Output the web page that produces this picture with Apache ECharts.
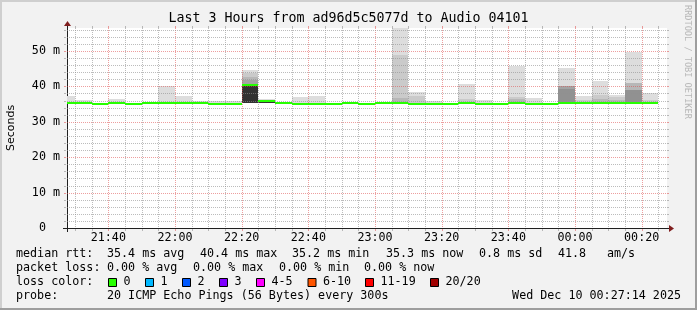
<!DOCTYPE html>
<html>
<head>
<meta charset="utf-8">
<script src="https://cdn.jsdelivr.net/npm/echarts@6/dist/echarts.min.js"></script>
<style>
html,body{margin:0;padding:0;background:#f2f2f2;}
#chart{width:697px;height:310px;}
</style>
</head>
<body>
<div id="chart"></div>
<script>
// ---------------- data ----------------
const chartTitle = 'Last 3 Hours from ad96d5c5077d to Audio 04101';
const yAxisTitle = 'Seconds';
const xTickLabels = ['21:40','22:00','22:20','22:40','23:00','23:20','23:40','00:00','00:20'];
const yTickValues = [0, 10, 20, 30, 40, 50];

// 5-minute sample bins (start time of each bin)
const stepStarts = ['21:25','21:30','21:35','21:40','21:45','21:50','21:55',
  '22:00','22:05','22:10','22:15','22:20','22:25','22:30','22:35','22:40','22:45','22:50','22:55',
  '23:00','23:05','23:10','23:15','23:20','23:25','23:30','23:35','23:40','23:45','23:50','23:55',
  '00:00','00:05','00:10','00:15','00:20'];

// median RTT per bin (ms)
const medianRtt = [35.4,35.4,35.1,35.4,35.1,35.4,35.4,35.4,35.4,35.1,
                   35.1,40.4,36.0,35.4,35.1,35.1,35.1,35.4,35.1,35.4,
                   35.4,35.1,35.1,35.1,35.4,35.1,35.1,35.4,35.1,35.1,
                   35.4,35.4,35.4,35.4,35.4,35.4];

// smoke: lowest ping, then top of each smoke band (band 1 = outermost / max ping)
const smokeFloor = 35.2;
const smokeTop1 = [37.4,36.2,null,36.4,null,null,40.0,37.3,36.0,36.0,
                   36.0,44.6,36.4,null,37.1,37.3,null,null,null,null,
                   56.6,38.4,36.0,null,40.8,36.2,null,45.8,36.8,null,
                   45.3,37.3,41.4,37.7,49.8,38.1];
const smokeTop2 = [null,null,null,null,null,null,null,null,null,null,
                   null,43.7,null,null,null,null,null,null,null,null,
                   48.9,37.3,null,null,36.5,null,null,37.1,null,null,
                   null,36.3,37.6,37.0,null,36.3];
const smokeTop3 = [null,null,null,null,null,null,null,null,null,null,
                   null,42.7,null,null,null,null,null,null,null,null,
                   36.7,null,null,null,null,null,null,36.4,null,null,
                   null,null,36.4,36.3,41.1,null];
const smokeTop4 = [null,null,null,null,null,null,null,null,null,null,
                   null,41.7,null,null,null,null,null,null,null,null,
                   null,null,null,null,null,null,null,null,null,null,
                   40.0,null,null,null,null,null];
const smokeTop5 = [null,null,null,null,null,null,null,null,null,null,
                   null,null,null,null,null,null,null,null,null,null,
                   null,null,null,null,null,null,null,null,null,null,
                   39.3,null,null,null,38.9,null];
const smokeTop10 = [null,null,null,null,null,null,null,null,null,null,
                    null,40.7,35.8,null,null,null,null,null,null,null,
                    null,null,null,null,null,null,null,null,null,null,
                    null,null,null,null,null,null];

const rttLabel = 'median rtt:';
const rttStats = ['35.4 ms avg','40.4 ms max','35.2 ms min','35.3 ms now','0.8 ms sd','41.8','am/s'];
const lossLabel = 'packet loss:';
const lossStats = ['0.00 % avg','0.00 % max','0.00 % min','0.00 % now'];
const lossColorLabel = 'loss color:';
const lossLabels = ['0','1','2','3','4-5','6-10','11-19','20/20'];
const lossColors = ['#26ff00','#00b8ff','#0059ff','#7e00ff','#ff00ff','#ff5500','#ff0000','#a10000'];
const probeLabel = 'probe:';
const probeText = '20 ICMP Echo Pings (56 Bytes) every 300s';
const dateText = 'Wed Dec 10 00:27:14 2025';
const watermark = 'RRDTOOL / TOBI OETIKER';

// ---------------- helpers ----------------
const toMin = s => { let [h, m] = s.split(':').map(Number); if (h < 12) h += 24; return (h - 21) * 60 + m; };
const fmtMin = v => { let t = Math.round(v); let h = (21 + Math.floor(t / 60)) % 24; let m = t % 60; return String(h).padStart(2,'0') + ':' + String(m).padStart(2,'0'); };
const STEP = 5;
const xMin = 27.6, xMax = 207.6, yMax = 56.5;
const bandColor = lvl => { const c = Math.floor(190 / 10 * (10 - lvl)) + 50; const h = c.toString(16).padStart(2, '0'); return '#' + h + h + h; };

const smokeBands = [[1, smokeTop1],[2, smokeTop2],[3, smokeTop3],[4, smokeTop4],[5, smokeTop5],[10, smokeTop10]];
const smokeData = [];
smokeBands.forEach(([lvl, arr]) => arr.forEach((v, i) => {
  if (v != null) { const t = toMin(stepStarts[i]); smokeData.push([t, t + STEP, smokeFloor, v, lvl]); }
}));
const medianData = medianRtt.map((m, i) => { const t = toMin(stepStarts[i]); return [t, t + STEP, m]; });

// grid lines (5 min / 2 ms minor, 20 min / 10 ms major)
const gridData = [];
for (let t = 30; t < xMax; t += 5) gridData.push([0, t, t % 20 === 0 ? 1 : 0]);
for (let v = 2; v < yMax; v += 2) gridData.push([1, v, v % 10 === 0 ? 1 : 0]);

const GRID = 'rgba(143,143,143,0.6)';
const MGRID = 'rgba(222,79,79,0.55)';
const AXIS = '#1f1f1f';
const ARROW = '#801f1f';
const FONT = 'DejaVu Sans Mono';

const chart = echarts.init(document.getElementById('chart'), null, {renderer: 'canvas'});

const txt = (x, y, text, opts = {}) => ({
  type: 'text', x, y, silent: true,
  style: Object.assign({text, fill: '#000', font: `11.7px "${FONT}"`, textAlign: 'left', textVerticalAlign: 'middle'}, opts)
});

const graphics = [];
// frame shading
graphics.push({type:'rect', shape:{x:0,y:0,width:697,height:2}, style:{fill:'#cfcfcf'}, silent:true});
graphics.push({type:'rect', shape:{x:0,y:0,width:2,height:310}, style:{fill:'#cfcfcf'}, silent:true});
graphics.push({type:'rect', shape:{x:695,y:0,width:2,height:310}, style:{fill:'#9e9e9e'}, silent:true});
graphics.push({type:'rect', shape:{x:0,y:308,width:697,height:2}, style:{fill:'#9e9e9e'}, silent:true});
// title
graphics.push(txt(348.5, 19, chartTitle, {font: `13.3px "${FONT}"`, textAlign: 'center'}));
// y axis title
graphics.push({type:'text', x: 11, y: 128, rotation: Math.PI/2, silent:true,
  style:{text: yAxisTitle, fill:'#000', font:'11px "DejaVu Sans"', textAlign:'center', textVerticalAlign:'middle'}});
// watermark
graphics.push({type:'text', x: 687.5, y: 5, rotation: -Math.PI/2, silent:true,
  style:{text: watermark, fill:'#b8b8b8', font:`8.6px "${FONT}"`, textAlign:'left', textVerticalAlign:'middle'}});
// axis extensions and arrows
graphics.push({type:'line', shape:{x1:63,y1:228.5,x2:67,y2:228.5}, style:{stroke:AXIS,lineWidth:1}, silent:true});
graphics.push({type:'line', shape:{x1:667,y1:228.5,x2:671,y2:228.5}, style:{stroke:AXIS,lineWidth:1}, silent:true});
graphics.push({type:'line', shape:{x1:67.5,y1:228,x2:67.5,y2:232}, style:{stroke:AXIS,lineWidth:1}, silent:true});
graphics.push({type:'line', shape:{x1:67.5,y1:24,x2:67.5,y2:28}, style:{stroke:AXIS,lineWidth:1}, silent:true});
graphics.push({type:'polygon', shape:{points:[[669,225],[669,232],[674,228.5]]}, style:{fill:ARROW}, silent:true});
graphics.push({type:'polygon', shape:{points:[[64,26],[71,26],[67.5,21]]}, style:{fill:ARROW}, silent:true});
// legend rows
const rttX = [107, 200, 292, 386, 479, 558, 607];
graphics.push(txt(16, 254, rttLabel));
rttStats.forEach((s, i) => graphics.push(txt(rttX[i], 254, s)));
const lossX = [107, 193, 279, 364];
graphics.push(txt(16, 268, lossLabel));
lossStats.forEach((s, i) => graphics.push(txt(lossX[i], 268, s)));
graphics.push(txt(16, 282, lossColorLabel));
const swX = [108, 145, 182, 219, 256, 307.5, 365, 430];
lossLabels.forEach((s, i) => {
  graphics.push({type:'rect', shape:{x: swX[i] + 0.5, y: 278.5, width: 8, height: 8}, style:{fill: lossColors[i], stroke:'#000', lineWidth:1}, silent:true});
  graphics.push(txt(swX[i] + 15.5, 282, s));
});
graphics.push(txt(16, 296, probeLabel));
graphics.push(txt(107, 296, probeText));
graphics.push(txt(681, 296, dateText, {textAlign:'right'}));

const option = {
  backgroundColor: '#f2f2f2',
  animation: false,
  grid: {left: 67, top: 28, width: 600, height: 200, show: true, backgroundColor: '#ffffff', borderWidth: 0},
  xAxis: {
    type: 'value', min: xMin, max: xMax,
    axisLine: {show: true, lineStyle: {color: AXIS, width: 1}},
    axisTick: {show: false},
    splitLine: {show: false},
    axisLabel: {
      customValues: xTickLabels.map(toMin),
      formatter: v => fmtMin(v),
      color: '#000', fontFamily: FONT, fontSize: 11.7, margin: 4
    }
  },
  yAxis: {
    type: 'value', min: 0, max: yMax, interval: 10,
    axisLine: {show: true, lineStyle: {color: AXIS, width: 1}},
    axisTick: {show: false},
    splitLine: {show: false},
    axisLabel: {
      customValues: yTickValues,
      formatter: v => v === 0 ? '0  ' : v + ' m',
      color: '#000', fontFamily: FONT, fontSize: 11.7, margin: 7
    }
  },
  graphic: graphics,
  series: [
    {
      type: 'custom', name: 'smoke', z: 2, silent: true,
      encode: {x: [0, 1], y: [2, 3]},
      data: smokeData,
      renderItem: (p, api) => {
        const t0 = Math.max(api.value(0), xMin), t1 = Math.min(api.value(1), xMax);
        const a = api.coord([t0, api.value(2)]);
        const b = api.coord([t1, Math.min(api.value(3), yMax)]);
        const x0 = Math.round(a[0]), x1 = Math.round(b[0]);
        const y0 = Math.round(a[1]), y1 = Math.round(b[1]);
        return {type: 'rect', shape: {x: x0, y: y1, width: x1 - x0, height: y0 - y1},
          style: {fill: bandColor(api.value(4))}};
      }
    },
    {
      type: 'custom', name: 'grid', z: 3, silent: true,
      encode: {x: 1, y: 1},
      data: gridData,
      renderItem: (p, api) => {
        const orient = api.value(0), v = api.value(1), major = api.value(2);
        const color = major ? MGRID : GRID;
        const dashed = {stroke: color, lineWidth: 1, lineDash: [1, 1]};
        const solid = {stroke: color, lineWidth: 1};
        if (orient === 0) {
          const top = api.coord([v, yMax]), bot = api.coord([v, 0]);
          const x = Math.round(top[0]) + 0.5, yt = Math.round(top[1]), yb = Math.round(bot[1]);
          return {type: 'group', children: [
            {type: 'line', shape: {x1: x, y1: yt, x2: x, y2: yb}, style: dashed},
            {type: 'line', shape: {x1: x, y1: yt - 2, x2: x, y2: yt}, style: solid},
            {type: 'line', shape: {x1: x, y1: yb + 1, x2: x, y2: yb + 3}, style: solid}
          ]};
        }
        const l = api.coord([xMin, v]), r = api.coord([xMax, v]);
        const y = Math.round(l[1]) + 0.5, xl = Math.round(l[0]), xr = Math.round(r[0]);
        return {type: 'group', children: [
          {type: 'line', shape: {x1: xl, y1: y, x2: xr, y2: y}, style: dashed},
          {type: 'line', shape: {x1: xl - 3, y1: y, x2: xl - 1, y2: y}, style: solid},
          {type: 'line', shape: {x1: xr, y1: y, x2: xr + 2, y2: y}, style: solid}
        ]};
      }
    },
    {
      type: 'custom', name: 'median', z: 4, silent: true,
      encode: {x: [0, 1], y: 2},
      data: medianData,
      renderItem: (p, api) => {
        const t0 = Math.max(api.value(0), xMin), t1 = Math.min(api.value(1), xMax);
        const a = api.coord([t0, api.value(2)]), b = api.coord([t1, api.value(2)]);
        const y = Math.round(a[1]);
        return {type: 'line', shape: {x1: Math.round(a[0]), y1: y, x2: Math.round(b[0]), y2: y},
          style: {stroke: lossColors[0], lineWidth: 2}};
      }
    }
  ]
};
chart.setOption(option);
</script>
</body>
</html>
